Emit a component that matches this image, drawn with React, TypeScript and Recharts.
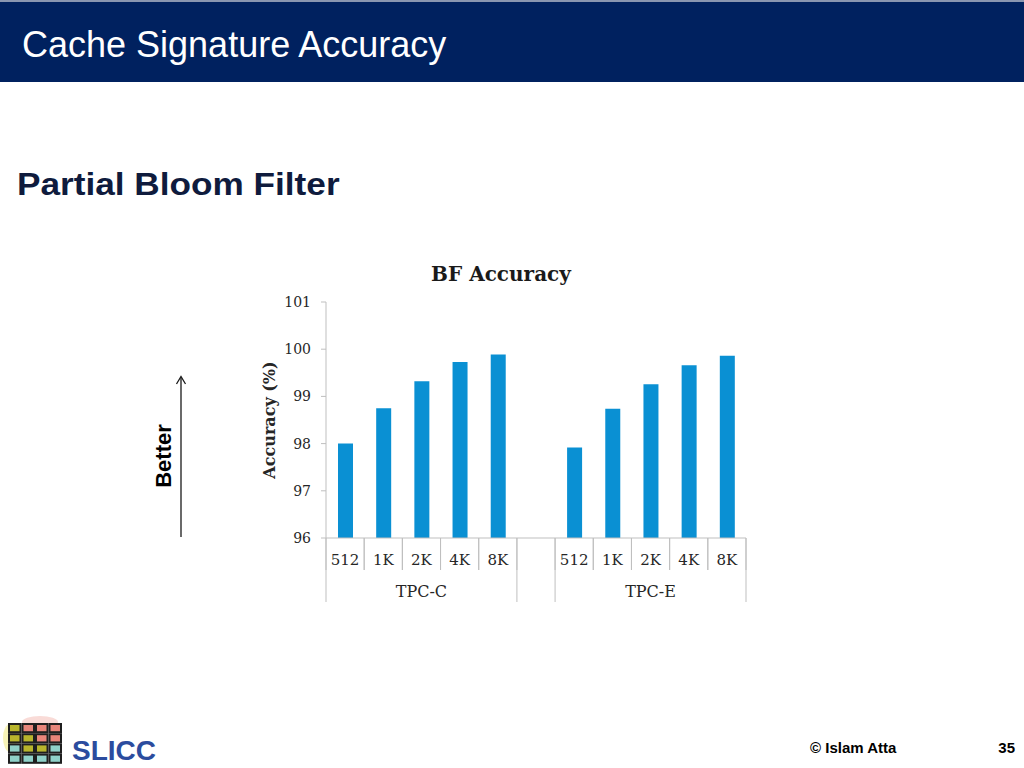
import React from 'react';
import { BarChart, Bar, XAxis, YAxis } from 'recharts';

const sizes = ['512', '1K', '2K', '4K', '8K'];
const groups = ['TPC-C', 'TPC-E'];
const tpccAccuracy = [98.0, 98.75, 99.32, 99.73, 99.89];
const tpceAccuracy = [97.92, 98.74, 99.26, 99.66, 99.86];
const yTicks = [96, 97, 98, 99, 100, 101];

const data = [
  ...sizes.map((s, i) => ({ size: s, group: groups[0], acc: tpccAccuracy[i] })),
  { size: '', group: '', acc: null as number | null },
  ...sizes.map((s, i) => ({ size: s, group: groups[1], acc: tpceAccuracy[i] })),
];

const CHART_W = 520;
const CHART_H = 370;
const MARGIN = { top: 52, right: 24, bottom: 18, left: 14 };
const Y_AXIS_W = 62;
const PLOT_W = CHART_W - MARGIN.left - MARGIN.right - Y_AXIS_W;
const SLOT = PLOT_W / data.length;
const ROW_H = 32;
const GRID = '#bfbfbf';
const BAR = '#0a90d3';
const SERIF = '"DejaVu Serif", Georgia, serif';
const SANS = '"Liberation Sans", Arial, Helvetica, sans-serif';
const TEXT = '#262626';

const SizeTick = (props: any) => {
  const { x, y, payload } = props;
  const label = payload?.value;
  if (!label) return <g />;
  return (
    <g>
      <line x1={x - SLOT / 2} x2={x - SLOT / 2} y1={y} y2={y + ROW_H} stroke={GRID} strokeWidth={1} />
      <line x1={x + SLOT / 2} x2={x + SLOT / 2} y1={y} y2={y + ROW_H} stroke={GRID} strokeWidth={1} />
      <text x={x} y={y + 27} textAnchor="middle" fontFamily={SERIF} fontSize={15} fill={TEXT}>
        {label}
      </text>
    </g>
  );
};

const GroupTick = (props: any) => {
  const { x, y, payload } = props;
  const index = props.index ?? payload?.index;
  if (index !== 2 && index !== 8) return <g />;
  const half = (sizes.length / 2) * SLOT;
  return (
    <g>
      <line x1={x - half} x2={x - half} y1={y - ROW_H} y2={y + ROW_H} stroke={GRID} strokeWidth={1} />
      <line x1={x + half} x2={x + half} y1={y - ROW_H} y2={y + ROW_H} stroke={GRID} strokeWidth={1} />
      <text x={x} y={y + 27} textAnchor="middle" fontFamily={SERIF} fontSize={16} fill={TEXT}>
        {payload?.value}
      </text>
    </g>
  );
};

const YLabel = (p: any) => {
  const vb = p?.viewBox || { x: 264, y: 302, width: 62, height: 236 };
  const cx = vb.x + 5;
  const cy = vb.y + vb.height / 2;
  return (
    <text
      x={cx}
      y={cy}
      transform={`rotate(-90 ${cx} ${cy})`}
      textAnchor="middle"
      dominantBaseline="central"
      fontFamily={SERIF}
      fontWeight="bold"
      fontSize={16}
      fill={TEXT}
    >
      Accuracy (%)
    </text>
  );
};

const logoColors = [
  ['#b8b52c', '#e8857a', '#e8857a', '#e8857a'],
  ['#b8b52c', '#b8b52c', '#e8857a', '#e8857a'],
  ['#8fd1c9', '#b8b52c', '#b8b52c', '#8fd1c9'],
  ['#8fd1c9', '#8fd1c9', '#8fd1c9', '#8fd1c9'],
];

export default function App() {
  return (
    <div
      style={{
        position: 'absolute',
        top: 0,
        left: 0,
        width: 1024,
        height: 768,
        background: '#ffffff',
        overflow: 'hidden',
      }}
    >
      <div style={{ position: 'absolute', left: 0, top: 0, width: 1024, height: 2, background: '#8a96b0' }} />
      <div style={{ position: 'absolute', left: 0, top: 2, width: 1024, height: 80, background: '#00215f' }} />
      <svg width={1024} height={768} style={{ position: 'absolute', left: 0, top: 0, pointerEvents: 'none' }}>
        <text x={22} y={57} fontFamily={SANS} fontSize={36} fill="#ffffff">
          Cache Signature Accuracy
        </text>
        <text
          x={0}
          y={195}
          transform="translate(17 0) scale(1.1 1)"
          fontFamily={SANS}
          fontSize={32}
          fontWeight="bold"
          fill="#0f1b3d"
        >
          Partial Bloom Filter
        </text>
        <text x={501} y={281} textAnchor="middle" fontFamily={SERIF} fontSize={20} fontWeight="bold" fill="#1a1a1a">
          BF Accuracy
        </text>
        <line x1={181} y1={377} x2={181} y2={537} stroke="#1a1a1a" strokeWidth={1.3} />
        <polyline points="176.5,384 181,376.5 185.5,384" fill="none" stroke="#1a1a1a" strokeWidth={1.3} />
        <text
          x={163}
          y={456}
          transform="rotate(-90 163 456)"
          textAnchor="middle"
          dominantBaseline="central"
          fontFamily={SANS}
          fontSize={22}
          fontWeight="bold"
          fill="#000000"
        >
          Better
        </text>
        <ellipse cx={10} cy={738} rx={7} ry={14} fill="#f0e870" opacity={0.5} />
        <ellipse cx={40} cy={722} rx={18} ry={6} fill="#f3b7b0" opacity={0.5} />
        {logoColors.map((row, r) =>
          row.map((c, ci) => (
            <rect
              key={`${r}-${ci}`}
              x={9 + ci * 13.5}
              y={724 + r * 10.2}
              width={11.5}
              height={8.2}
              fill={c}
              stroke="#1f1f1f"
              strokeWidth={2}
            />
          ))
        )}
        <text x={72} y={760} fontFamily={SANS} fontSize={28} fontWeight="bold" fill="#2b4c9e">
          SLICC
        </text>
        <text x={810} y={753} fontFamily={SANS} fontSize={15} fontWeight="bold" fill="#000000">
          © Islam Atta
        </text>
        <text x={1015} y={753} textAnchor="end" fontFamily={SANS} fontSize={15} fontWeight="bold" fill="#000000">
          35
        </text>
      </svg>
      <div style={{ position: 'absolute', left: 250, top: 250, width: CHART_W, height: CHART_H }}>
        <BarChart width={CHART_W} height={CHART_H} data={data} margin={MARGIN}>
          <XAxis
            dataKey="size"
            interval={0}
            tickLine={false}
            tickSize={0}
            tickMargin={0}
            height={ROW_H}
            axisLine={{ stroke: GRID }}
            tick={<SizeTick />}
          />
          <XAxis
            xAxisId="group"
            dataKey="group"
            interval={0}
            tickLine={false}
            tickSize={0}
            tickMargin={0}
            height={ROW_H}
            axisLine={false}
            tick={<GroupTick />}
          />
          <YAxis
            domain={[96, 101]}
            ticks={yTicks}
            interval={0}
            width={Y_AXIS_W}
            tickSize={5}
            tickMargin={10}
            axisLine={{ stroke: GRID }}
            tickLine={{ stroke: GRID }}
            tick={{ fontFamily: SERIF, fontSize: 14, fill: TEXT }}
            label={{ content: YLabel }}
          />
          <Bar dataKey="acc" fill={BAR} barSize={15} isAnimationActive={false} />
        </BarChart>
      </div>
    </div>
  );
}
